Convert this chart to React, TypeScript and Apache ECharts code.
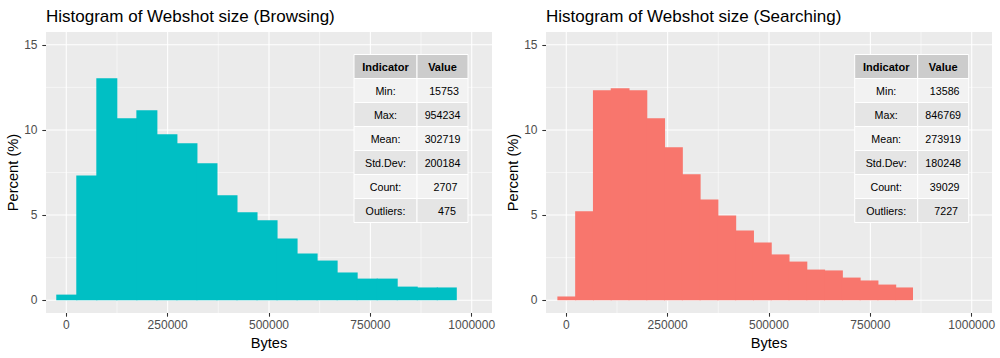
import React, { useEffect, useRef } from 'react';
import * as echarts from 'echarts';

// ---- data ----
const xBreaks = [0, 250000, 500000, 750000, 1000000];
const xMinorBreaks = [125000, 375000, 625000, 875000];
const yBreaks = [0, 5, 10, 15];
const yMinorBreaks = [2.5, 7.5, 12.5];

// histogram bins (20 bins each, ggplot bins = 20)
const browsingBinOrigin = -24697;
const browsingBinWidth = 49394;
const browsingPercent = [0.33, 7.33, 13.04, 10.69, 11.16, 9.75, 9.22, 8.04, 6.16, 5.16, 4.69, 3.63, 2.75, 2.33, 1.63, 1.27, 1.27, 0.80, 0.75, 0.75];

const searchingBinOrigin = -21926;
const searchingBinWidth = 43852;
const searchingPercent = [0.22, 5.22, 12.33, 12.45, 12.33, 10.69, 8.98, 7.39, 5.92, 4.98, 4.10, 3.39, 2.69, 2.27, 1.80, 1.75, 1.33, 1.16, 0.92, 0.75];

const indicatorLabels = ['Min:', 'Max:', 'Mean:', 'Std.Dev:', 'Count:', 'Outliers:'];
const browsingStats = ['15753', '954234', '302719', '200184', '2707', '475'];
const searchingStats = ['13586', '846769', '273919', '180248', '39029', '7227'];

const titles = ['Histogram of Webshot size (Browsing)', 'Histogram of Webshot size (Searching)'];
const fillColors = ['#00BFC4', '#F8766D'];

const FONT = '"Liberation Sans", Arial, Helvetica, sans-serif';

function binData(origin: number, width: number, pct: number[]) {
  return pct.map((p, i) => [origin + i * width, origin + (i + 1) * width, p, i === pct.length - 1 ? 1 : 0]);
}

function gridLineData() {
  const d: number[][] = [];
  xMinorBreaks.forEach((v) => d.push([v, 0, 0]));
  yMinorBreaks.forEach((v) => d.push([v, 1, 0]));
  xBreaks.forEach((v) => d.push([v, 0, 1]));
  yBreaks.forEach((v) => d.push([v, 1, 1]));
  return d;
}

function gridSeries(idx: number) {
  return {
    type: 'custom',
    xAxisIndex: idx,
    yAxisIndex: idx,
    silent: true,
    z: 1,
    data: gridLineData(),
    renderItem: (params: any, api: any) => {
      const cs = params.coordSys;
      const v = api.value(0);
      const dir = api.value(1);
      const major = api.value(2);
      const lw = major ? 1.07 : 0.53;
      if (dir === 0) {
        const px = api.coord([v, 0])[0];
        if (px < cs.x || px > cs.x + cs.width) return null;
        return { type: 'line', shape: { x1: px, y1: cs.y, x2: px, y2: cs.y + cs.height }, style: { stroke: '#FFFFFF', lineWidth: lw } };
      }
      const py = api.coord([0, v])[1];
      if (py < cs.y || py > cs.y + cs.height) return null;
      return { type: 'line', shape: { x1: cs.x, y1: py, x2: cs.x + cs.width, y2: py }, style: { stroke: '#FFFFFF', lineWidth: lw } };
    },
  };
}

function barSeries(idx: number, data: number[][], color: string) {
  return {
    type: 'custom',
    xAxisIndex: idx,
    yAxisIndex: idx,
    z: 2,
    encode: { x: [0, 1], y: 2 },
    data,
    renderItem: (params: any, api: any) => {
      const p0 = api.coord([api.value(0), 0]);
      const p1 = api.coord([api.value(1), api.value(2)]);
      const extra = api.value(3) ? 0 : 1;
      return {
        type: 'rect',
        shape: { x: p0[0], y: p1[1], width: p1[0] - p0[0] + extra, height: p0[1] - p1[1] },
        style: { fill: color },
      };
    },
  };
}

function tableGraphic(left: number, top: number, stats: string[]) {
  const c1 = 63;
  const c2 = 51;
  const rh = 24;
  const Z = 100;
  const els: any[] = [];
  els.push({ type: 'rect', z: Z, shape: { x: left, y: top, width: c1, height: rh }, style: { fill: '#CCCCCC', stroke: '#FFFFFF', lineWidth: 1 } });
  els.push({ type: 'rect', z: Z, shape: { x: left + c1, y: top, width: c2, height: rh }, style: { fill: '#CCCCCC', stroke: '#FFFFFF', lineWidth: 1 } });
  els.push({ type: 'text', z: Z + 1, x: left + c1 / 2, y: top + rh / 2, style: { text: 'Indicator', font: `bold 11px ${FONT}`, fill: '#000000', align: 'center', verticalAlign: 'middle' } });
  els.push({ type: 'text', z: Z + 1, x: left + c1 + c2 / 2, y: top + rh / 2, style: { text: 'Value', font: `bold 11px ${FONT}`, fill: '#000000', align: 'center', verticalAlign: 'middle' } });
  const fs = 10.7;
  const maxLen = Math.max(...stats.map((s) => s.length));
  indicatorLabels.forEach((lab, i) => {
    const y = top + rh * (i + 1);
    const fill = i % 2 === 0 ? '#F2F2F2' : '#E5E5E5';
    els.push({ type: 'rect', z: Z, shape: { x: left, y, width: c1, height: rh }, style: { fill, stroke: '#FFFFFF', lineWidth: 1 } });
    els.push({ type: 'rect', z: Z, shape: { x: left + c1, y, width: c2, height: rh }, style: { fill, stroke: '#FFFFFF', lineWidth: 1 } });
    els.push({ type: 'text', z: Z + 1, x: left + c1 / 2, y: y + rh / 2, style: { text: lab, font: `${fs}px ${FONT}`, fill: '#000000', align: 'center', verticalAlign: 'middle' } });
    const s = stats[i];
    const off = ((maxLen - s.length) * (0.556 - 0.278) * fs) / 2;
    els.push({ type: 'text', z: Z + 1, x: left + c1 + c2 / 2 + off, y: y + rh / 2, style: { text: s, font: `${fs}px ${FONT}`, fill: '#000000', align: 'center', verticalAlign: 'middle' } });
  });
  return els;
}

function xAxisOpt(idx: number) {
  return {
    type: 'value',
    gridIndex: idx,
    min: -50000,
    max: 1050000,
    name: 'Bytes',
    nameLocation: 'middle',
    nameGap: 20,
    nameTextStyle: { fontSize: 14.67, color: '#000000', fontFamily: FONT },
    axisLine: { show: false, onZero: false },
    axisTick: { show: true, customValues: xBreaks, length: 3.7, lineStyle: { color: '#333333', width: 1.07 } },
    axisLabel: { customValues: xBreaks, formatter: (v: number) => String(v), color: '#4D4D4D', fontSize: 12, fontFamily: FONT, margin: 6 },
    splitLine: { show: false },
  };
}

function yAxisOpt(idx: number) {
  return {
    type: 'value',
    gridIndex: idx,
    min: -0.75,
    max: 15.75,
    name: 'Percent (%)',
    nameLocation: 'middle',
    nameGap: 22,
    nameTextStyle: { fontSize: 14.67, color: '#000000', fontFamily: FONT },
    axisLine: { show: false, onZero: false },
    axisTick: { show: true, customValues: yBreaks, length: 3.7, lineStyle: { color: '#333333', width: 1.07 } },
    axisLabel: { customValues: yBreaks, formatter: (v: number) => String(v), color: '#4D4D4D', fontSize: 12, fontFamily: FONT, margin: 8.5 },
    splitLine: { show: false },
  };
}

export default function App() {
  const ref = useRef<HTMLDivElement>(null);
  useEffect(() => {
    document.body.style.margin = '0';
    if (!ref.current) return;
    const chart = echarts.init(ref.current, undefined, { renderer: 'svg' });
    const gridBase = { top: 32, height: 281, width: 446, show: true, backgroundColor: '#EBEBEB', borderWidth: 0, containLabel: false };
    chart.setOption({
      animation: false,
      backgroundColor: '#FFFFFF',
      grid: [
        { ...gridBase, left: 46 },
        { ...gridBase, left: 546 },
      ],
      xAxis: [xAxisOpt(0), xAxisOpt(1)],
      yAxis: [yAxisOpt(0), yAxisOpt(1)],
      series: [
        gridSeries(0),
        gridSeries(1),
        barSeries(0, binData(browsingBinOrigin, browsingBinWidth, browsingPercent), fillColors[0]),
        barSeries(1, binData(searchingBinOrigin, searchingBinWidth, searchingPercent), fillColors[1]),
      ],
      graphic: [
        { type: 'text', x: 46, y: 16, z: 100, style: { text: titles[0], font: `17px ${FONT}`, fill: '#000000', verticalAlign: 'middle' } },
        { type: 'text', x: 546, y: 16, z: 100, style: { text: titles[1], font: `17px ${FONT}`, fill: '#000000', verticalAlign: 'middle' } },
        ...tableGraphic(354, 54.5, browsingStats),
        ...tableGraphic(854.7, 54.5, searchingStats),
      ],
    });
    return () => chart.dispose();
  }, []);
  return <div ref={ref} style={{ width: 1000, height: 358, position: 'absolute', left: 0, top: 0 }} />;
}
